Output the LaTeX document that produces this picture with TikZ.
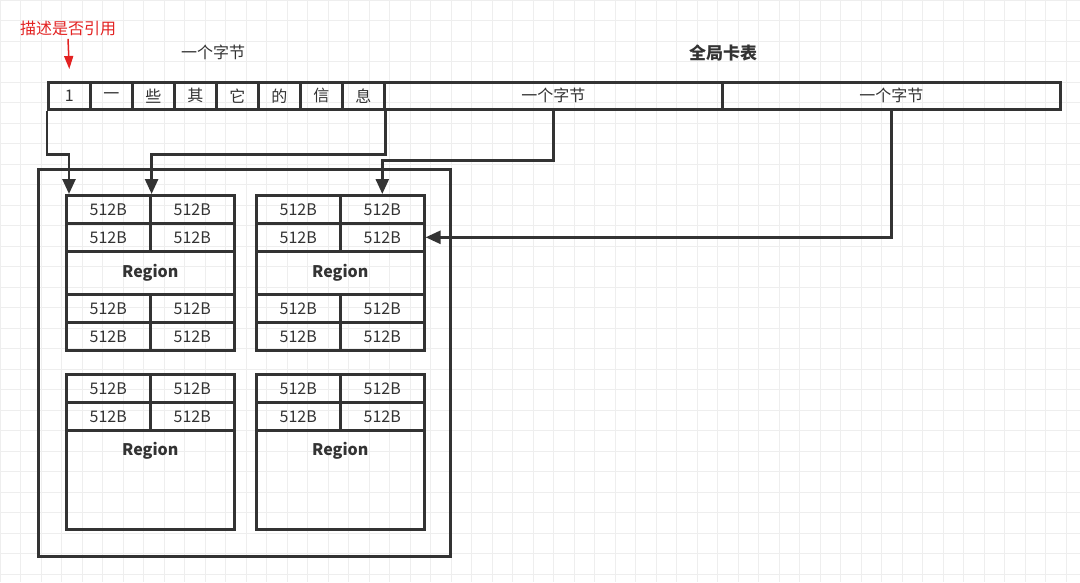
\documentclass[tikz,border=0pt]{standalone}
\usepackage{fontspec}
\setmainfont{Noto Sans CJK SC}
\usepackage{tikz}
\usetikzlibrary{arrows.meta}
\definecolor{linegray}{HTML}{333333}
\definecolor{gridgray}{HTML}{EEEEEE}
\definecolor{notered}{HTML}{E32222}

\tikzset{
  cell/.style={draw=linegray, line width=2.6pt, anchor=north west, inner sep=0pt,
    text=linegray, font=\fontsize{16}{16}\selectfont},
  link/.style={draw=linegray, line width=2.6pt, -{Triangle[length=15pt,width=13pt]}},
  lbl/.style={text=linegray, font=\fontsize{16}{16}\selectfont},
}

\begin{document}
\begin{tikzpicture}[x=1pt,y=-1pt]
  \useasboundingbox (0,0) rectangle (1080,582);
  \fill[white] (0,0) rectangle (1080,582);
  \draw[gridgray, line width=0.7pt, xstep=20.5pt, ystep=20.5pt] (0,0) grid (1080,582);

  % card table
  \node[lbl] (bytelbl) at (213,52) {一个字节};
  \node[lbl, font=\fontsize{17}{17}\selectfont\bfseries] (cardlbl) at (723,53) {全局卡表};
  \foreach \t [count=\i] in {1,一,些,其,它,的,信,息}
    \node[cell, minimum width=42pt, minimum height=27pt] (c\i) at ({47+42*(\i-1)},81) {\t};
  \node[cell, minimum width=338pt, minimum height=27pt] (big1) at (383,81) {一个字节};
  \node[cell, minimum width=338pt, minimum height=27pt] (big2) at (721,81) {一个字节};

  % reference flag
  \node[text=notered, font=\fontsize{16}{16}\selectfont] (desc) at (68,28) {描述是否引用};
  \draw[notered, line width=1.5pt, -{Triangle[length=13pt,width=9pt]}]
    (desc.south) -- ([yshift=12pt]c1.north);

  % heap
  \node[draw=linegray, line width=2.6pt, anchor=north west, minimum width=412pt,
    minimum height=387pt] (heap) at (37,168) {};
  \foreach \bx/\by/\b in {65/194/1,255/194/2,65/373/3,255/373/4} {
    \node[cell, minimum width=84pt, minimum height=28pt] (b\b-11) at (\bx,\by) {512B};
    \node[cell, minimum width=84pt, minimum height=28pt] (b\b-12) at (\bx+84,\by) {512B};
    \node[cell, minimum width=84pt, minimum height=28pt] (b\b-21) at (\bx,\by+28) {512B};
    \node[cell, minimum width=84pt, minimum height=28pt] (b\b-22) at (\bx+84,\by+28) {512B};
  }
  \foreach \bx/\by/\b in {65/194/1,255/194/2} {
    \node[cell, minimum width=168pt, minimum height=43pt, font=\fontsize{16}{16}\selectfont\bfseries]
      (b\b-r) at (\bx,\by+56) {Region};
    \node[cell, minimum width=84pt, minimum height=28pt] (b\b-31) at (\bx,\by+99) {512B};
    \node[cell, minimum width=84pt, minimum height=28pt] (b\b-32) at (\bx+84,\by+99) {512B};
    \node[cell, minimum width=84pt, minimum height=28pt] (b\b-41) at (\bx,\by+127) {512B};
    \node[cell, minimum width=84pt, minimum height=28pt] (b\b-42) at (\bx+84,\by+127) {512B};
  }
  \foreach \bx/\by/\b in {65/373/3,255/373/4} {
    \node[cell, minimum width=168pt, minimum height=99pt] (b\b-r) at (\bx,\by+56) {};
    \node[text=linegray, font=\fontsize{16}{16}\selectfont\bfseries]
      (b\b-rt) at ([yshift=-22pt]b\b-r.north) {Region};
  }

  % links
  \draw[link] (c1.south west) -- ++(0,44) -| ([xshift=4pt]b1-11.north west);
  \draw[link] (c8.south east) -- ++(0,44) -| (b1-11.north east);
  \draw[link] (big1.south) -- ++(0,50) -| (b2-12.north);
  \draw[link] (big2.south) |- (b2-22.east);
\end{tikzpicture}
\end{document}
